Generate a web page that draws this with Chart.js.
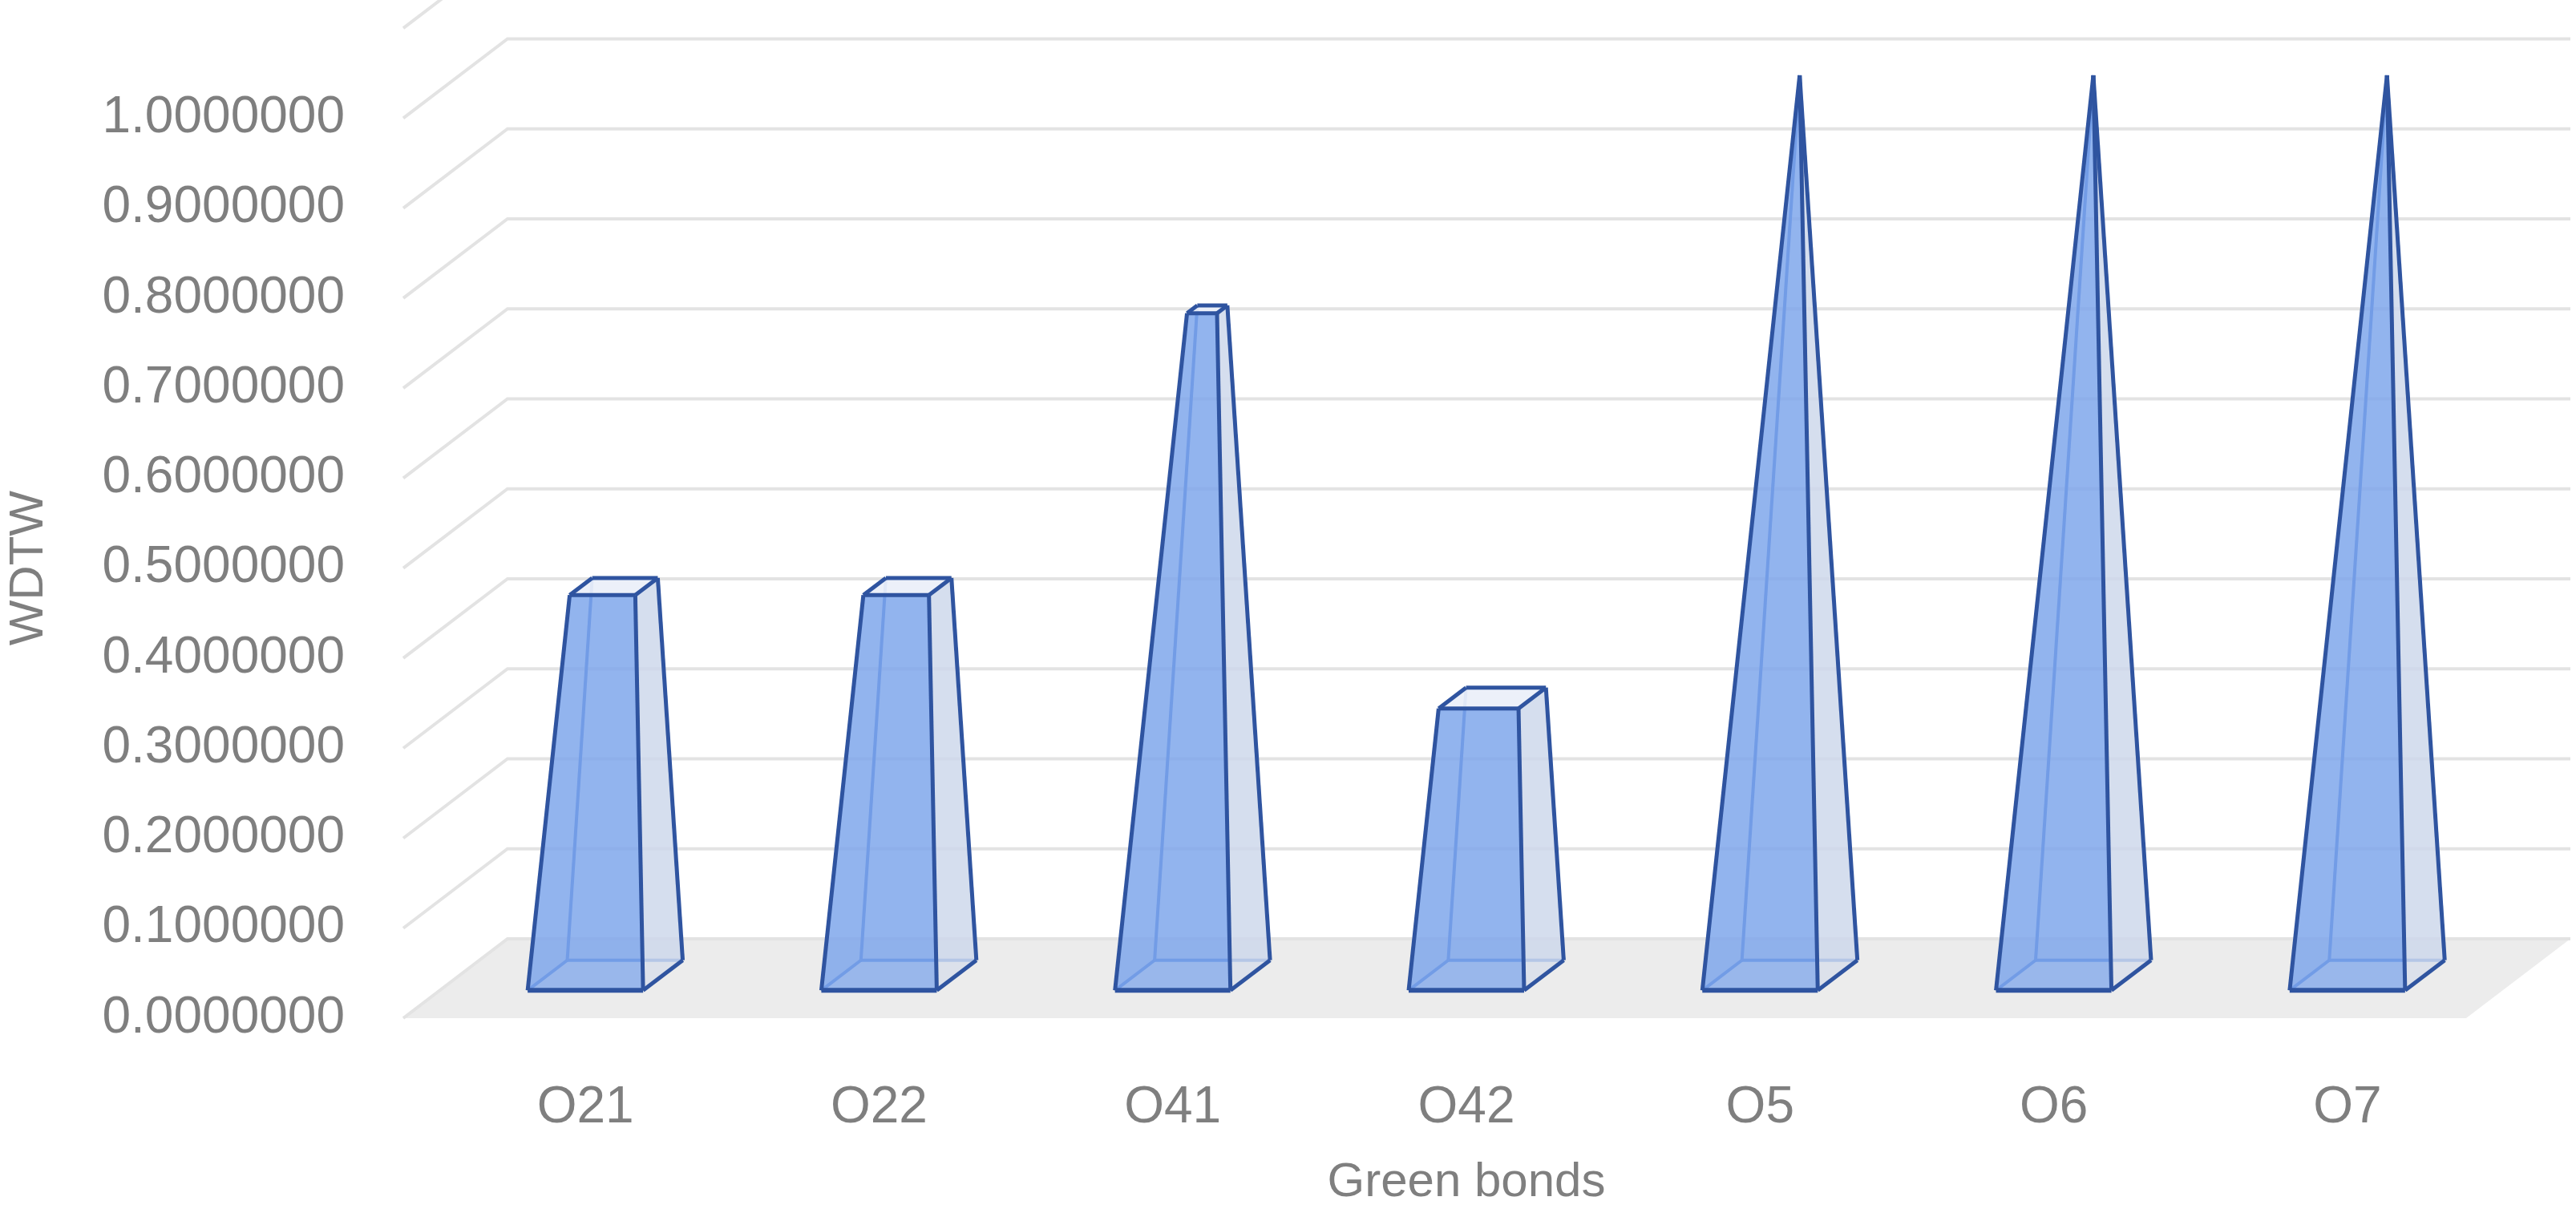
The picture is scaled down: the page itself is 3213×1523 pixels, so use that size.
<!DOCTYPE html>
<html>
<head>
<meta charset="UTF-8">
<title>WDTW</title>
<script src="https://cdn.jsdelivr.net/npm/chart.js"></script>
<style>
  html, body { margin: 0; padding: 0; background: #fff; }
  #wrap { width: 3213px; height: 1523px; }
</style>
</head>
<body>
<div id="wrap"><canvas id="grafico"></canvas></div>
<script>
const bonos = ["O21", "O22", "O41", "O42", "O5", "O6", "O7"];
const valores = [0.432, 0.432, 0.74, 0.308, 1.0, 1.0, 1.0];
const ticksY = [0, 0.1, 0.2, 0.3, 0.4, 0.5, 0.6, 0.7, 0.8, 0.9, 1.0, 1.1];

// 3D projection: depth 0..1 shifts right DX and up DY
const DX = 130, DY = 99;
const D0 = 0.35, D1 = 0.73, DC = 0.54;
const HW = 72;

const piramides = {
  id: "piramides",
  beforeDatasetsDraw(chart) {
    const ctx = chart.ctx, y = chart.scales.y, a = chart.chartArea;
    const fl = a.left - 44, fr = a.right - 35;
    ctx.save();
    // floor
    ctx.fillStyle = "#ececec";
    ctx.beginPath();
    ctx.moveTo(fl, y.getPixelForValue(0));
    ctx.lineTo(fr, y.getPixelForValue(0));
    ctx.lineTo(fr + DX, y.getPixelForValue(0) - DY);
    ctx.lineTo(fl + DX, y.getPixelForValue(0) - DY);
    ctx.closePath();
    ctx.fill();
    // side wall + back wall gridlines
    ctx.lineWidth = 4;
    ctx.strokeStyle = "#e3e3e3";
    ticksY.forEach(v => {
      const py = y.getPixelForValue(v);
      ctx.beginPath();
      ctx.moveTo(fl, py);
      ctx.lineTo(fl + DX, py - DY);
      ctx.lineTo(fr + DX, py - DY);
      ctx.stroke();
    });
    ctx.restore();
  },
  afterDatasetsDraw(chart) {
    const ctx = chart.ctx, x = chart.scales.x, y = chart.scales.y;
    const P = (px, v, d) => [px + (d - D0) * DX, y.getPixelForValue(v) - d * DY];
    ctx.save();
    ctx.lineJoin = "round";
    valores.forEach((v, i) => {
      const c = x.getPixelForValue(i);
      const ax = c + (DC - D0) * DX;
      const t = v / 1.0;
      const lerp = (b, e) => b + (e - b) * t;
      const corner = (sx, d, h) => P(h ? lerp(sx, ax) : sx, h ? v : 0, h ? lerp(d, DC) : d);
      const bFL = corner(c - HW, D0, false), bFR = corner(c + HW, D0, false);
      const bBL = corner(c - HW, D1, false), bBR = corner(c + HW, D1, false);
      const tFL = corner(c - HW, D0, true), tFR = corner(c + HW, D0, true);
      const tBL = corner(c - HW, D1, true), tBR = corner(c + HW, D1, true);
      const poly = (pts, fill) => {
        ctx.beginPath();
        ctx.moveTo(pts[0][0], pts[0][1]);
        pts.slice(1).forEach(p => ctx.lineTo(p[0], p[1]));
        ctx.closePath();
        ctx.fillStyle = fill;
        ctx.fill();
      };
      const line = (p, q, col, w) => {
        ctx.beginPath();
        ctx.moveTo(p[0], p[1]);
        ctx.lineTo(q[0], q[1]);
        ctx.strokeStyle = col;
        ctx.lineWidth = w;
        ctx.stroke();
      };
      // back / left faces
      poly([bBL, bBR, tBR, tBL], "rgba(120,160,235,0.35)");
      poly([bFL, bBL, tBL, tFL], "rgba(120,160,235,0.35)");
      line(bBL, bBR, "#4f7fd8", 4);
      line(bBL, tBL, "#4f7fd8", 4);
      line(bFL, bBL, "#4f7fd8", 4);
      // right face
      poly([bFR, bBR, tBR, tFR], "rgba(215,222,235,0.75)");
      // front face
      poly([bFL, bFR, tFR, tFL], "rgba(125,165,235,0.75)");
      // top face
      if (t < 0.999) poly([tFL, tFR, tBR, tBL], "rgba(240,243,250,0.9)");
      const edge = "#2f54a0";
      line(bFL, bFR, edge, 6);
      line(bFR, bBR, edge, 5);
      line(bBR, tBR, edge, 5);
      line(bFL, tFL, edge, 5);
      line(bFR, tFR, edge, 5);
      line(tFL, tFR, edge, 5);
      line(tFR, tBR, edge, 5);
      line(tBR, tBL, edge, 5);
      line(tBL, tFL, edge, 5);
    });
    ctx.restore();
  }
};

new Chart(document.getElementById("grafico"), {
  type: "bar",
  data: {
    labels: bonos,
    datasets: [{ label: "WDTW", data: valores, backgroundColor: "rgba(0,0,0,0)", borderWidth: 0 }]
  },
  options: {
    responsive: true,
    maintainAspectRatio: false,
    animation: false,
    devicePixelRatio: 1,
    layout: { padding: { top: 136, right: 102, left: 0, bottom: 0 } },
    plugins: { legend: { display: false }, tooltip: { enabled: false } },
    scales: {
      x: {
        grid: { display: false },
        border: { display: false },
        ticks: { color: "#7f7f7f", font: { family: "Liberation Sans", size: 64 }, padding: 66, maxRotation: 0 },
        title: { display: true, text: "Green bonds", color: "#7f7f7f", font: { family: "Liberation Sans", size: 60 }, padding: { top: 0, bottom: 12 } },
        afterFit: s => { s.height = 253; }
      },
      y: {
        min: 0, max: 1.0,
        grid: { display: false },
        border: { display: false },
        ticks: { stepSize: 0.1, color: "#7f7f7f", font: { family: "Liberation Sans", size: 64 }, padding: 109,
                 callback: v => Number(v).toFixed(7) },
        title: { display: true, text: "WDTW", color: "#7f7f7f", font: { family: "Liberation Sans", size: 60 }, padding: { top: 0, bottom: 0 } },
        afterFit: s => { s.width = 547; }
      }
    }
  },
  plugins: [piramides]
});
</script>
</body>
</html>
